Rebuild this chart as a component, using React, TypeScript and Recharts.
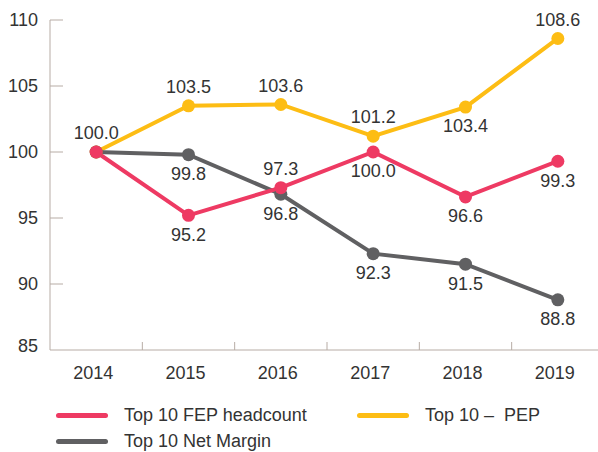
import { LineChart, Line, XAxis, YAxis, LabelList } from 'recharts';

const years = ['2014', '2015', '2016', '2017', '2018', '2019'];
const fepHeadcount = [100.0, 95.2, 97.3, 100.0, 96.6, 99.3];
const pep = [100.0, 103.5, 103.6, 101.2, 103.4, 108.6];
const netMargin = [100.0, 99.8, 96.8, 92.3, 91.5, 88.8];
const yTicks = [85, 90, 95, 100, 105, 110];

// where each value label sits relative to its point
const fepLabelPos = ['top', 'bottom', 'top', 'bottom', 'bottom', 'bottom'];
const pepLabelPos = ['none', 'top', 'top', 'top', 'bottom', 'top'];
const marginLabelPos = ['none', 'bottom', 'bottom', 'bottom', 'bottom', 'bottom'];

const data = years.map((year, i) => ({
  year,
  fep: fepHeadcount[i],
  pep: pep[i],
  margin: netMargin[i],
}));

const W = 598;
const H = 452;
const MARGIN = { top: 20, right: -6, bottom: 62, left: 0 };
const Y_AXIS_W = 50;
const BAND = (W - Y_AXIS_W - MARGIN.right) / years.length;

const FONT = '"Liberation Sans", Arial, sans-serif';
const TEXT = '#333333';
const AXIS = '#b7aca5';
const PINK = '#ee3a63';
const YELLOW = '#fdbd14';
const GRAY = '#606062';

function XTick({ x, y, payload, index }: any) {
  return (
    <g>
      {index > 0 && (
        <line x1={x - BAND / 2} x2={x - BAND / 2} y1={y} y2={y - 8} stroke={AXIS} strokeWidth={1} />
      )}
      <text x={x - 3} y={y + 29} textAnchor="middle" fontSize={18} fontFamily={FONT} fill={TEXT}>
        {payload.value}
      </text>
    </g>
  );
}

function YTick({ x, y, payload }: any) {
  const lift = payload.value === 85 ? -4 : 0;
  return (
    <g>
      {payload.value !== 85 && <line x1={x} x2={x + 13} y1={y} y2={y} stroke={AXIS} strokeWidth={1} />}
      <text x={x - 12} y={y + lift} dy="0.35em" textAnchor="end" fontSize={18} fontFamily={FONT} fill={TEXT}>
        {payload.value}
      </text>
    </g>
  );
}

const makeLabel = (positions: string[]) => (props: any) => {
  const { x, y, value, index } = props;
  const pos = positions[index];
  if (pos === 'none') return null;
  const cy = pos === 'top' ? y - 19 : y + 19;
  return (
    <text x={x} y={cy} dy="0.35em" textAnchor="middle" fontSize={18} fontFamily={FONT} fill={TEXT}>
      {Number(value).toFixed(1)}
    </text>
  );
};

const legendItems = [
  { name: 'Top 10 FEP headcount', color: PINK },
  { name: 'Top 10 –  PEP', color: YELLOW },
  { name: 'Top 10 Net Margin', color: GRAY },
];

export default function App() {
  return (
    <div style={{ position: 'absolute', left: 0, top: 0, width: W, height: H, background: '#fff' }}>
      <LineChart width={W} height={H} data={data} margin={MARGIN}>
        <XAxis
          dataKey="year"
          height={40}
          stroke={AXIS}
          tickLine={false}
          tickSize={0}
          tickMargin={0}
          tick={<XTick />}
          interval={0}
          padding={{ left: BAND / 2, right: BAND / 2 }}
        />
        <YAxis
          width={Y_AXIS_W}
          domain={[85, 110]}
          ticks={yTicks}
          stroke={AXIS}
          tickLine={false}
          tickSize={0}
          tickMargin={0}
          tick={<YTick />}
          interval={0}
        />
        <Line
          dataKey="pep"
          stroke={YELLOW}
          strokeWidth={4}
          dot={{ r: 6.5, fill: YELLOW, stroke: 'none' }}
          activeDot={false}
          isAnimationActive={false}
        >
          <LabelList dataKey="pep" content={makeLabel(pepLabelPos)} />
        </Line>
        <Line
          dataKey="margin"
          stroke={GRAY}
          strokeWidth={4}
          dot={{ r: 6.5, fill: GRAY, stroke: 'none' }}
          activeDot={false}
          isAnimationActive={false}
        >
          <LabelList dataKey="margin" content={makeLabel(marginLabelPos)} />
        </Line>
        <Line
          dataKey="fep"
          stroke={PINK}
          strokeWidth={4}
          dot={{ r: 6.5, fill: PINK, stroke: 'none' }}
          activeDot={false}
          isAnimationActive={false}
        >
          <LabelList dataKey="fep" content={makeLabel(fepLabelPos)} />
        </Line>
      </LineChart>
      <div
        style={{
          position: 'absolute',
          left: 56,
          top: 402,
          display: 'grid',
          gridTemplateColumns: '301px 200px',
          gridAutoRows: '26px',
          fontFamily: FONT,
          fontSize: 18,
          color: TEXT,
        }}
      >
        {legendItems.map((item) => (
          <div key={item.name} style={{ display: 'flex', alignItems: 'center', whiteSpace: 'pre' }}>
            <span
              style={{
                display: 'inline-block',
                width: 52,
                height: 5,
                borderRadius: 3,
                background: item.color,
                marginRight: 16,
              }}
            />
            {item.name}
          </div>
        ))}
      </div>
    </div>
  );
}
